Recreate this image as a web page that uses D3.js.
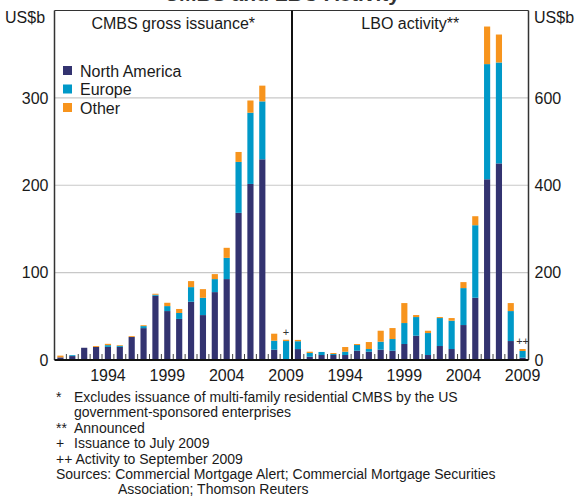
<!DOCTYPE html>
<html><head><meta charset="utf-8">
<script src="https://cdn.jsdelivr.net/npm/d3@7/dist/d3.min.js"></script>
<style>
html,body{margin:0;padding:0;background:#fff;}
svg{display:block;font-family:"Liberation Sans",Arial,sans-serif;}
</style></head>
<body>
<svg id="c" width="579" height="498"></svg>
<script>
const years = d3.range(1990, 2010);
// CMBS gross issuance (US$b)
const cmbsNA    = [3, 4.5, 14, 15, 15, 15, 26.3, 36.5, 73.5, 56, 47, 66.7, 51.4, 77.7, 92.6, 168.4, 201.5, 229.7, 11.8, 0];
const cmbsEU    = [0, 1, 0, 0, 2, 1.2, 0, 2.3, 1.2, 5.7, 6.8, 16.7, 19.8, 14.9, 24.3, 58.3, 81.5, 66.3, 10.3, 21.7];
const cmbsOther = [2, 0, 0, 1, 1.5, 0.8, 1, 1, 1.1, 3.8, 4.6, 6.9, 9.9, 5.7, 11.5, 11.4, 14, 18, 8, 1.5];
// LBO activity (US$b)
const lboNA    = [25, 7.6, 11.4, 11.4, 11.4, 21.3, 19, 23.6, 21.3, 36.6, 55.6, 11.4, 32, 25.1, 80, 142.5, 413.7, 450, 43.4, 5.3];
const lboEU    = [18, 8.4, 7, 2.3, 7.6, 13, 6.1, 18.3, 26.7, 48, 42.7, 50.3, 64, 64.8, 84.6, 166, 263.6, 231, 68.6, 15.3];
const lboOther = [3, 3, 0, 2.3, 10.7, 2.3, 16, 25.1, 25.1, 45.7, 4.6, 5.3, 2.3, 6.1, 13.7, 20.6, 86, 64, 18.3, 4.5];

const seriesNames = ["North America", "Europe", "Other"];
const colors = ["#333370", "#0099c8", "#f7941d"];
const leftTicks = [0, 100, 200, 300];
const rightTicks = [0, 200, 400, 600];
const xTickLabels = [1994, 1999, 2004, 2009];

const svg = d3.select("#c");
const yTop = 10.5, base = 360;
const L0 = 54.5, MID = 292, R1 = 528.5;
const yL = d3.scaleLinear().domain([0, 400]).range([base, yTop]);
const yR = d3.scaleLinear().domain([0, 800]).range([base, yTop]);
const xL = d3.scaleBand().domain(years).range([L0, MID]).paddingInner(0.48).paddingOuter(0.24);
const xR = d3.scaleBand().domain(years).range([MID, R1]).paddingInner(0.48).paddingOuter(0.24);

const txt = "#1a1a1a";

// partially visible main title (cropped at the top edge, as in the reference)
svg.append("text").attr("x", 282).attr("y", 1).attr("text-anchor", "middle")
  .attr("font-size", 21).attr("font-weight", "bold").attr("fill", "#333")
  .text("CMBS and LBO Activity");

// gridlines
svg.append("g").selectAll("line").data(leftTicks.filter(d => d > 0)).join("line")
  .attr("x1", L0).attr("x2", MID).attr("y1", d => yL(d)).attr("y2", d => yL(d))
  .attr("stroke", "#c8c8c8").attr("stroke-width", 1.2);
svg.append("g").selectAll("line").data(rightTicks.filter(d => d > 0)).join("line")
  .attr("x1", MID).attr("x2", R1).attr("y1", d => yR(d)).attr("y2", d => yR(d))
  .attr("stroke", "#c8c8c8").attr("stroke-width", 1.2);

function drawPanel(x, y, na, eu, ot) {
  const rows = years.map((yr, i) => ({year: yr, na: na[i], eu: eu[i], ot: ot[i]}));
  const stack = d3.stack().keys(["na", "eu", "ot"])(rows);
  svg.append("g").selectAll("g").data(stack).join("g")
    .attr("fill", (d, i) => colors[i])
    .selectAll("rect").data(d => d).join("rect")
    .attr("x", d => x(d.data.year)).attr("width", x.bandwidth())
    .attr("y", d => y(d[1])).attr("height", d => Math.max(0, y(d[0]) - y(d[1])));
  const step = x.step();
  const bounds = years.slice(1).map(yr => x(yr) - (step - x.bandwidth()) / 2);
  svg.append("g").selectAll("line").data(bounds).join("line")
    .attr("x1", d => d).attr("x2", d => d).attr("y1", base).attr("y2", base - 6)
    .attr("stroke", "#444").attr("stroke-width", 1);
  const ax = d3.axisBottom(x).tickValues(xTickLabels).tickSize(0).tickPadding(0);
  const g = svg.append("g").attr("transform", `translate(0,${base})`).call(ax);
  g.select(".domain").remove();
  g.selectAll("text").attr("font-size", 16).attr("fill", txt).attr("dy", 0).attr("y", 21)
    .attr("font-family", "Liberation Sans, Arial, sans-serif");
}
drawPanel(xL, yL, cmbsNA, cmbsEU, cmbsOther);
drawPanel(xR, yR, lboNA, lboEU, lboOther);

const axL = d3.axisLeft(yL).tickValues(leftTicks).tickSize(0).tickPadding(6);
const gAL = svg.append("g").attr("transform", `translate(${L0},0)`).call(axL);
gAL.select(".domain").remove();
gAL.selectAll("text").attr("font-size", 16).attr("fill", txt).attr("font-family", "Liberation Sans, Arial, sans-serif");
const axR = d3.axisRight(yR).tickValues(rightTicks).tickSize(0).tickPadding(6);
const gAR = svg.append("g").attr("transform", `translate(${R1},0)`).call(axR);
gAR.select(".domain").remove();
gAR.selectAll("text").attr("font-size", 16).attr("fill", txt).attr("font-family", "Liberation Sans, Arial, sans-serif");

const fr = svg.append("g").attr("stroke", "#333").attr("fill", "none");
fr.append("line").attr("x1", L0).attr("x2", R1).attr("y1", yTop).attr("y2", yTop).attr("stroke-width", 1.2);
fr.append("line").attr("x1", L0).attr("x2", L0).attr("y1", yTop).attr("y2", base).attr("stroke-width", 1.5);
fr.append("line").attr("x1", R1).attr("x2", R1).attr("y1", yTop).attr("y2", base).attr("stroke-width", 1.5);
fr.append("line").attr("x1", MID).attr("x2", MID).attr("y1", yTop).attr("y2", base).attr("stroke", "#111").attr("stroke-width", 2);
fr.append("line").attr("x1", L0).attr("x2", R1).attr("y1", base).attr("y2", base).attr("stroke", "#111").attr("stroke-width", 2);

svg.append("text").attr("x", 5).attr("y", 23).attr("font-size", 16).attr("fill", txt).text("US$b");
svg.append("text").attr("x", 534).attr("y", 23).attr("font-size", 16).attr("fill", txt).text("US$b");

svg.append("text").attr("x", (L0 + MID) / 2).attr("y", 29).attr("text-anchor", "middle")
  .attr("font-size", 16).attr("fill", txt).text("CMBS gross issuance*");
svg.append("text").attr("x", (MID + R1) / 2).attr("y", 29).attr("text-anchor", "middle")
  .attr("font-size", 16).attr("fill", txt).text("LBO activity**");

const lg = svg.append("g").attr("transform", "translate(63,66)");
seriesNames.forEach((n, i) => {
  lg.append("rect").attr("x", 0).attr("y", i * 18.5).attr("width", 9).attr("height", 9).attr("fill", colors[i]);
  lg.append("text").attr("x", 17).attr("y", i * 18.5 + 10.5).attr("font-size", 16).attr("fill", txt).text(n);
});

svg.append("text").attr("x", xL(2009) + xL.bandwidth() / 2).attr("y", yL(cmbsNA[19] + cmbsEU[19] + cmbsOther[19]) - 4)
  .attr("text-anchor", "middle").attr("font-size", 11).attr("fill", "#333").text("+");
svg.append("text").attr("x", xR(2009) + xR.bandwidth() / 2).attr("y", yR(lboNA[19] + lboEU[19] + lboOther[19]) - 4)
  .attr("text-anchor", "middle").attr("font-size", 11).attr("fill", "#333").text("++");

const fs = 14, lh = 15.4, fy = 402;
const noteMarks = ["*", "", "**", "+", ""];
const noteTexts = ["Excludes issuance of multi-family residential CMBS by the US",
  "government-sponsored enterprises", "Announced", "Issuance to July 2009", "++ Activity to September 2009"];
noteTexts.forEach((t, i) => {
  if (noteMarks[i]) svg.append("text").attr("x", 56).attr("y", fy + i * lh).attr("font-size", fs).attr("fill", txt).text(noteMarks[i]);
  svg.append("text").attr("x", i === 4 ? 56 : 74).attr("y", fy + i * lh).attr("font-size", fs).attr("fill", txt).text(t);
});
svg.append("text").attr("x", 56).attr("y", fy + 5 * lh).attr("font-size", fs).attr("fill", txt)
  .text("Sources: Commercial Mortgage Alert; Commercial Mortgage Securities");
svg.append("text").attr("x", 118).attr("y", fy + 6 * lh).attr("font-size", fs).attr("fill", txt)
  .text("Association; Thomson Reuters");
</script>
</body></html>
